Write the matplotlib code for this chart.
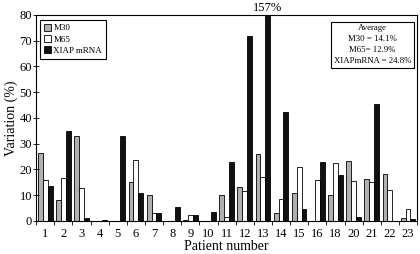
import numpy as np
import matplotlib
matplotlib.use("Agg")
import matplotlib.pyplot as plt

plt.rcParams['font.family'] = ['Liberation Serif', 'DejaVu Serif']

patients = ["1", "2", "3", "4", "5", "6", "7", "8", "9", "10", "11", "12",
            "13", "14", "15", "16", "18", "20", "21", "22", "23"]
m30 = [26.5, 8, 33, 0, 0, 15.3, 10, 0, 0.5, 0, 10.1, 13.3,
       26, 3.2, 10.7, 0, 10, 23.4, 16.4, 18.4, 1]
m65 = [16, 16.5, 13, 0, 0, 23.5, 3, 0, 2.3, 0, 1.4, 11.8,
       17, 8.4, 20.8, 15.8, 22.7, 15.7, 15, 12, 4.5]
xiap = [13.5, 35, 1.2, 0.3, 33, 11, 3.2, 5.5, 2.2, 3.5, 23, 71.8,
        157, 42.5, 4.5, 22.9, 18, 1.4, 45.6, 0, 0.9]

fig = plt.figure(figsize=(4.2, 2.54), dpi=100)
ax = fig.add_axes([0.086, 0.13, 0.907, 0.811])

x = np.arange(len(patients))
w = 0.27
ax.bar(x - w, m30, w, color="#b0b0b0", edgecolor="black", linewidth=0.6, label="M30")
ax.bar(x, m65, w, color="white", edgecolor="black", linewidth=0.6, label="M65")
ax.bar(x + w, xiap, w, color="#111111", edgecolor="black", linewidth=0.6, label="XIAP mRNA")

ax.set_xlim(-0.5, len(patients) - 0.5)
ax.set_ylim(0, 80)
ax.set_yticks(range(0, 81, 10))
ax.set_xticks(x)
ax.set_xticklabels(patients)
ax.set_xticks(np.arange(len(patients) + 1) - 0.5, minor=True)
ax.tick_params(axis="x", which="major", length=0, labelsize=9, pad=5)
ax.tick_params(axis="x", which="minor", direction="out", length=3, width=0.6)
ax.tick_params(axis="y", direction="inout", length=4, width=0.6, labelsize=9, pad=1)
for s in ax.spines.values():
    s.set_linewidth(0.8)

ax.set_ylabel("Variation (%)", fontsize=10, labelpad=1)
ax.set_xlabel("Patient number", fontsize=10, labelpad=0)

ax.text(12 + w, 80.5, "157%", ha="center", va="bottom", fontsize=9)

leg = ax.legend(loc="upper left", bbox_to_anchor=(0.01, 0.975), fontsize=6.5,
                fancybox=False, edgecolor="black", framealpha=1,
                handlelength=0.8, handleheight=0.8, handletextpad=0.3,
                borderpad=0.4, labelspacing=0.3, borderaxespad=0)
leg.get_frame().set_linewidth(0.8)

ax.text(0.883, 0.955, "Average\nM30 = 14.1%\nM65= 12.9%\nXIAPmRNA = 24.8%",
        transform=ax.transAxes, ha="center", va="top", fontsize=6.3,
        multialignment="center", linespacing=1.5,
        bbox=dict(boxstyle="square,pad=0.3", facecolor="white", edgecolor="black", linewidth=0.8))

fig.savefig("out.png", dpi=100)
